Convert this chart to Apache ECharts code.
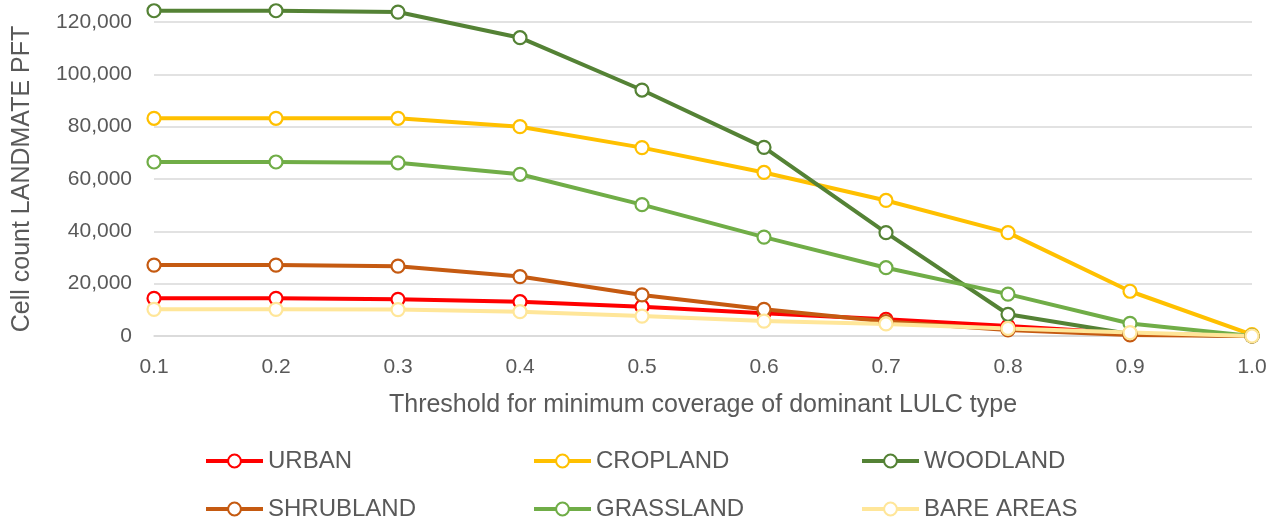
<!DOCTYPE html>
<html>
<head>
<meta charset="utf-8">
<script src="https://cdn.jsdelivr.net/npm/echarts@6/dist/echarts.min.js"></script>
<style>
  html, body { margin: 0; padding: 0; background: #fff; }
  #chart { width: 1283px; height: 522px; }
</style>
</head>
<body>
<div id="chart"></div>
<script>
// Threshold categories (x axis)
const thresholds = ['0.1', '0.2', '0.3', '0.4', '0.5', '0.6', '0.7', '0.8', '0.9', '1.0'];

// Cell counts per land-use class
const urban      = [14400, 14400, 14000, 13100, 11200, 8700, 6400, 3800, 1000, 0];
const cropland   = [83200, 83200, 83200, 80000, 72000, 62500, 51800, 39500, 17100, 500];
const woodland   = [124300, 124300, 123800, 114000, 94000, 72100, 39500, 8300, 800, 0];
const shrubland  = [27100, 27100, 26700, 22700, 15700, 10200, 5500, 2300, 400, 0];
const grassland  = [66500, 66500, 66200, 61800, 50200, 37800, 26100, 16000, 4800, 0];
const bareAreas  = [10200, 10200, 10100, 9300, 7600, 5700, 4600, 2900, 1300, 0];

const seriesNames = ['URBAN', 'CROPLAND', 'WOODLAND', 'SHRUBLAND', 'GRASSLAND', 'BARE AREAS'];
const seriesData = [urban, cropland, woodland, shrubland, grassland, bareAreas];
const seriesColors = ['#FF0000', '#FFC000', '#548235', '#C55A11', '#70AD47', '#FFE699'];

const FONT = '"Liberation Sans", Arial, sans-serif';
const TEXT = '#595959';

const chart = echarts.init(document.getElementById('chart'));

chart.setOption({
  animation: false,
  backgroundColor: '#fff',
  grid: { left: 154, right: 31, top: 22, bottom: 186 },
  legend: {
    left: 199,
    top: 439,
    width: 990,
    itemWidth: 57,
    itemHeight: 16,
    itemGap: 14,
    data: seriesNames,
    lineStyle: { width: 4 },
    textStyle: { color: TEXT, fontFamily: FONT, fontSize: 24, width: 250, lineHeight: 34 }
  },
  xAxis: {
    type: 'category',
    data: thresholds,
    boundaryGap: false,
    name: 'Threshold for minimum coverage of dominant LULC type',
    nameLocation: 'middle',
    nameGap: 57,
    nameTextStyle: { color: TEXT, fontFamily: FONT, fontSize: 25 },
    axisLine: { lineStyle: { color: '#D9D9D9', width: 1.5 } },
    axisTick: { show: false },
    axisLabel: { color: TEXT, fontFamily: FONT, fontSize: 21, margin: 21 }
  },
  yAxis: {
    type: 'value',
    min: 0,
    max: 120000,
    interval: 20000,
    name: 'Cell count LANDMATE PFT',
    nameLocation: 'middle',
    nameGap: 119,
    nameTextStyle: { color: TEXT, fontFamily: FONT, fontSize: 25 },
    axisLine: { show: false },
    axisTick: { show: false },
    splitLine: { lineStyle: { color: '#D9D9D9', width: 1.5 } },
    axisLabel: {
      color: TEXT, fontFamily: FONT, fontSize: 21, margin: 22,
      formatter: v => v.toLocaleString('en-US')
    }
  },
  series: seriesNames.map((name, i) => ({
    name: name,
    type: 'line',
    data: seriesData[i],
    clip: false,
    symbol: 'circle',
    symbolSize: 13,
    lineStyle: { color: seriesColors[i], width: 4 },
    itemStyle: { color: '#FFFFFF', borderColor: seriesColors[i], borderWidth: 2.2 }
  }))
});
</script>
</body>
</html>
